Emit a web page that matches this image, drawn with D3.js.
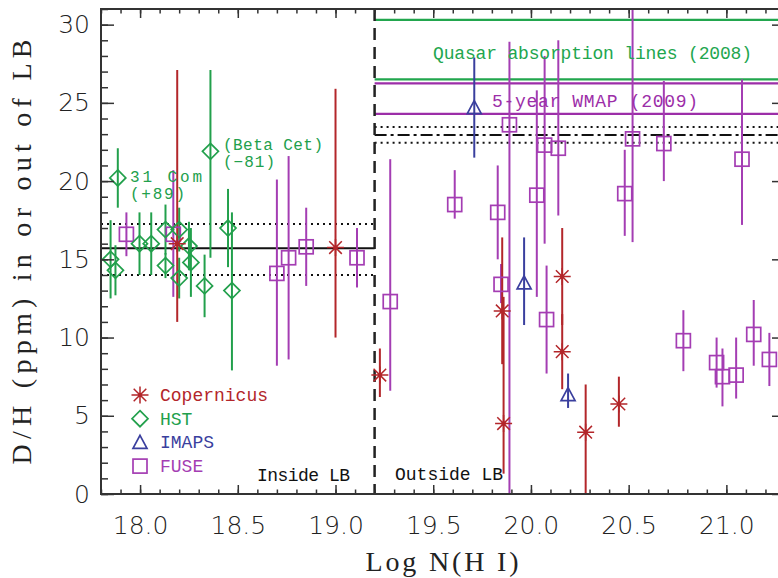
<!DOCTYPE html>
<html>
<head>
<meta charset="utf-8">
<script src="https://cdn.jsdelivr.net/npm/d3@7"></script>
<style>
  body { margin: 0; background: #fff; }
  svg { display: block; }
</style>
</head>
<body>
<svg id="chart"></svg>
<script>
// Copernicus
var copX = [18.19, 19.00, 19.227, 19.853, 19.86, 20.16, 20.16, 20.28, 20.45];
var copY = [16.0, 15.75, 7.6, 11.7, 4.5, 13.9, 9.1, 3.95, 5.75];
var copLo = [11.0, 10.0, 6.2, 8.3, 1.3, 10.8, 6.7, -1, 4.3];
var copHi = [27.1, 25.9, 9.3, 16.4, 12.6, 17.0, 11.5, 7.0, 7.5];

// HST
var hstX = [17.849, 17.874, 17.886, 17.997, 18.057, 18.13, 18.13, 18.20, 18.20, 18.25, 18.26, 18.33, 18.36, 18.45, 18.47];
var hstY = [15.0, 14.3, 20.2, 16.0, 16.0, 16.9, 14.6, 16.9, 13.8, 15.85, 14.8, 13.3, 21.9, 17.0, 13.0];
var hstLo = [12.5, 12.7, 18.3, 14.0, 14.0, 15.3, 13.8, 15.5, 12.5, 14.3, 12.6, 11.3, 15.1, 14.5, 7.9];
var hstHi = [17.5, 15.9, 22.1, 18.0, 18.0, 18.5, 15.4, 18.3, 15.1, 17.4, 17.0, 15.3, 27.1, 19.5, 18.0];

// IMAPS
var imapsX = [19.71, 19.965, 20.19];
var imapsY = [24.7, 13.5, 6.35];
var imapsLo = [21.5, 10.8, 5.5];
var imapsHi = [27.9, 16.4, 7.7];

// FUSE
var fuseX = [17.93, 18.17, 18.70, 18.76, 18.85, 19.11, 19.28, 19.61, 19.83, 19.847, 19.89, 20.03, 20.07, 20.08, 20.14, 20.48, 20.52, 20.68, 20.78, 20.95, 20.98, 21.05, 21.08, 21.14, 21.22];
var fuseY = [16.6, 16.6, 14.1, 15.1, 15.8, 15.1, 12.3, 18.5, 18.0, 13.4, 23.6, 19.1, 22.3, 11.15, 22.1, 19.2, 22.7, 22.4, 9.8, 8.4, 7.5, 7.6, 21.4, 10.2, 8.6];
var fuseLo = [15.2, 12.6, 8.2, 8.6, 13.3, 13.2, 6.6, 17.6, 15.0, 12.2, -1, 12.6, 16.0, 7.7, 17.8, 16.5, 16.1, 20.0, 7.85, 6.8, 5.6, 6.1, 17.2, 8.2, 6.9];
var fuseHi = [18.0, 20.7, 20.1, 21.6, 18.3, 17.0, 21.4, 20.7, 21.0, 14.7, 28.9, 25.8, 28.0, 14.6, 29.0, 22.0, 32, 26.4, 11.75, 10.0, 9.3, 10.0, 26.5, 12.4, 10.3];

// reference levels
var lbBoundary = 19.2;
var insideMean = 15.7, insideBand = [14.0, 17.25];
var outsideMean = 22.95, outsideBand = [22.45, 23.45];
var quasarBand = [26.5, 30.3];
var wmapBand = [24.3, 26.25];

var xMajor = [18.0, 18.5, 19.0, 19.5, 20.0, 20.5, 21.0];
var yMajor = [0, 5, 10, 15, 20, 25, 30];

var COP = "#b3262a", HSTC = "#22a04c", IMC = "#3a3f9e", FUC = "#a43db3";
var QUASAR = "#22a64e", WMAP = "#9c2ea8";

var width = 778, height = 578;
var L = 101, R = 785, T = 9, B = 494;

var svg = d3.select("#chart").attr("width", width).attr("height", height);

var x = d3.scaleLinear().domain([17.8, 21.3]).range([L, R]);
var y = d3.scaleLinear().domain([0, 31]).range([B, T]);

svg.append("clipPath").attr("id", "clip")
  .append("rect").attr("x", L).attr("y", T).attr("width", R - L).attr("height", B - T);

var plot = svg.append("g").attr("clip-path", "url(#clip)");

function hline(v, x0, x1, color, dash, w) {
  plot.append("line")
    .attr("x1", x(x0)).attr("x2", x(x1))
    .attr("y1", y(v)).attr("y2", y(v))
    .attr("stroke", color).attr("stroke-width", w || 2)
    .attr("stroke-dasharray", dash || null);
}

// inside LB
hline(insideMean, 17.8, lbBoundary, "#111", null, 2);
hline(insideBand[0], 17.8, lbBoundary, "#111", "2,4", 2);
hline(insideBand[1], 17.8, lbBoundary, "#111", "2,4", 2);
// outside LB
hline(outsideMean, lbBoundary, 21.3, "#111", "12,4,3,4", 2);
hline(outsideBand[0], lbBoundary, 21.3, "#111", "2,4", 2);
hline(outsideBand[1], lbBoundary, 21.3, "#111", "2,4", 2);
quasarBand.forEach(function (v) { hline(v, lbBoundary, 21.3, QUASAR, null, 2.2); });
wmapBand.forEach(function (v) { hline(v, lbBoundary, 21.3, WMAP, null, 2.2); });

// boundary
plot.append("line")
  .attr("x1", x(lbBoundary)).attr("x2", x(lbBoundary))
  .attr("y1", T).attr("y2", B)
  .attr("stroke", "#222").attr("stroke-width", 2.5)
  .attr("stroke-dasharray", "12,7");

function series(xs, ys, lo, hi) {
  return xs.map(function (d, i) { return { x: d, y: ys[i], lo: lo[i], hi: hi[i] }; });
}

function errorBars(data, color) {
  plot.append("g").selectAll("line").data(data).enter().append("line")
    .attr("x1", function (d) { return x(d.x); })
    .attr("x2", function (d) { return x(d.x); })
    .attr("y1", function (d) { return y(d.lo); })
    .attr("y2", function (d) { return y(d.hi); })
    .attr("stroke", color).attr("stroke-width", 2);
}

var S = 7;
function drawSymbol(g, type, cx, cy, color) {
  if (type === "square") {
    g.append("rect").attr("x", cx - S).attr("y", cy - S).attr("width", 2 * S).attr("height", 2 * S)
      .attr("fill", "none").attr("stroke", color).attr("stroke-width", 1.7);
  } else if (type === "diamond") {
    g.append("path")
      .attr("d", "M" + cx + "," + (cy - S - 1) + "L" + (cx + S + 1) + "," + cy + "L" + cx + "," + (cy + S + 1) + "L" + (cx - S - 1) + "," + cy + "Z")
      .attr("fill", "none").attr("stroke", color).attr("stroke-width", 1.7);
  } else if (type === "triangle") {
    g.append("path")
      .attr("d", "M" + cx + "," + (cy - S) + "L" + (cx + S) + "," + (cy + S - 1) + "L" + (cx - S) + "," + (cy + S - 1) + "Z")
      .attr("fill", "none").attr("stroke", color).attr("stroke-width", 1.7);
  } else {
    var a = 8.5;
    var d = 6.3;
    g.append("path")
      .attr("d", "M" + (cx - a) + "," + cy + "L" + (cx + a) + "," + cy +
        "M" + cx + "," + (cy - a) + "L" + cx + "," + (cy + a) +
        "M" + (cx - d) + "," + (cy - d) + "L" + (cx + d) + "," + (cy + d) +
        "M" + (cx - d) + "," + (cy + d) + "L" + (cx + d) + "," + (cy - d))
      .attr("stroke", color).attr("stroke-width", 1.5).attr("fill", "none");
    g.append("circle").attr("cx", cx).attr("cy", cy).attr("r", 2.2).attr("fill", color);
  }
}

function markers(data, type, color) {
  var g = plot.append("g");
  data.forEach(function (d) { drawSymbol(g, type, x(d.x), y(d.y), color); });
}

var fuse = series(fuseX, fuseY, fuseLo, fuseHi);
var hst = series(hstX, hstY, hstLo, hstHi);
var imaps = series(imapsX, imapsY, imapsLo, imapsHi);
var cop = series(copX, copY, copLo, copHi);

errorBars(fuse, FUC);
errorBars(hst, HSTC);
errorBars(imaps, IMC);
errorBars(cop, COP);
markers(fuse, "square", FUC);
markers(hst, "diamond", HSTC);
markers(imaps, "triangle", IMC);
markers(cop, "asterisk", COP);

// axes
var tickColor = "#333";
function styleAxis(g) {
  g.select(".domain").remove();
  g.selectAll("line").attr("stroke", tickColor).attr("stroke-width", 1.5);
}
var xMinor = d3.range(178, 214).map(function (v) { return v / 10; });
var yMinor = d3.range(0, 32);

svg.append("g").attr("transform", "translate(0," + B + ")")
  .call(d3.axisBottom(x).tickValues(xMinor).tickSize(-4.5).tickFormat("")).call(styleAxis);
svg.append("g").attr("transform", "translate(0," + T + ")")
  .call(d3.axisTop(x).tickValues(xMinor).tickSize(-4.5).tickFormat("")).call(styleAxis);
svg.append("g").attr("transform", "translate(0," + T + ")")
  .call(d3.axisTop(x).tickValues(xMajor).tickSize(-9).tickFormat("")).call(styleAxis);
var xAx = svg.append("g").attr("transform", "translate(0," + B + ")")
  .call(d3.axisBottom(x).tickValues(xMajor).tickSizeInner(-9).tickPadding(22).tickFormat(d3.format(".1f")))
  .call(styleAxis);

svg.append("g").attr("transform", "translate(" + L + ",0)")
  .call(d3.axisLeft(y).tickValues(yMinor).tickSize(-7).tickFormat("")).call(styleAxis);
svg.append("g").attr("transform", "translate(" + R + ",0)")
  .call(d3.axisRight(y).tickValues(yMinor).tickSize(-7).tickFormat("")).call(styleAxis);
svg.append("g").attr("transform", "translate(" + R + ",0)")
  .call(d3.axisRight(y).tickValues(yMajor).tickSize(-13).tickFormat("")).call(styleAxis);
var yAx = svg.append("g").attr("transform", "translate(" + L + ",0)")
  .call(d3.axisLeft(y).tickValues(yMajor).tickSizeInner(-13).tickPadding(11).tickFormat(d3.format("d")))
  .call(styleAxis);

[xAx, yAx].forEach(function (g) {
  g.selectAll("text").attr("fill", "#222")
    .style("font-family", "DejaVu Sans, sans-serif").style("font-size", "25px").style("font-weight", "300");
});

// frame
svg.append("rect").attr("x", L).attr("y", T).attr("width", R - L).attr("height", B - T)
  .attr("fill", "none").attr("stroke", "#333").attr("stroke-width", 2);

// axis titles
svg.append("text")
  .attr("x", 442).attr("y", 571)
  .attr("text-anchor", "middle")
  .attr("textLength", 153).attr("lengthAdjust", "spacing")
  .style("font-family", "Liberation Serif, serif").style("font-size", "28px").attr("fill", "#222")
  .text("Log N(H I)");
svg.append("text")
  .attr("transform", "translate(31,252)rotate(-90)")
  .attr("text-anchor", "middle")
  .attr("textLength", 425).attr("lengthAdjust", "spacing")
  .style("font-family", "Liberation Serif, serif").style("font-size", "28px").attr("fill", "#222")
  .text("D/H (ppm) in or out of LB");

// annotations
var mono = "Liberation Mono, monospace";
function label(txt, x0, yb, color, len, size) {
  var t = svg.append("text").attr("x", x0).attr("y", yb)
    .style("font-family", mono).style("font-size", (size || 18) + "px").attr("fill", color).text(txt);
  if (len) t.attr("textLength", len).attr("lengthAdjust", "spacing");
  return t;
}
label("Quasar absorption lines (2008)", 433, 59, QUASAR, 319);
label("5-year WMAP (2009)", 492, 107, WMAP, 206);
label("31 Com", 130, 182, HSTC, 72, 16);
label("(+89)", 130, 199, HSTC, 55, 16);
label("(Beta Cet)", 223, 150, HSTC, 100, 16);
label("(\u221281)", 223, 167, HSTC, 52, 16);
label("Inside LB", 257, 481, "#111", 93);
label("Outside LB", 395, 480, "#111", 108);

// legend
var legendNames = ["Copernicus", "HST", "IMAPS", "FUSE"];
var legendTypes = ["asterisk", "diamond", "triangle", "square"];
var legendColors = [COP, HSTC, IMC, FUC];
var legend = svg.append("g");
legendNames.forEach(function (name, i) {
  var ly = 395 + i * 23.7;
  drawSymbol(legend, legendTypes[i], 140, ly, legendColors[i]);
  legend.append("text").attr("x", 160).attr("y", ly + 6)
    .style("font-family", mono).style("font-size", "18px").attr("fill", legendColors[i])
    .text(name);
});
</script>
</body>
</html>
